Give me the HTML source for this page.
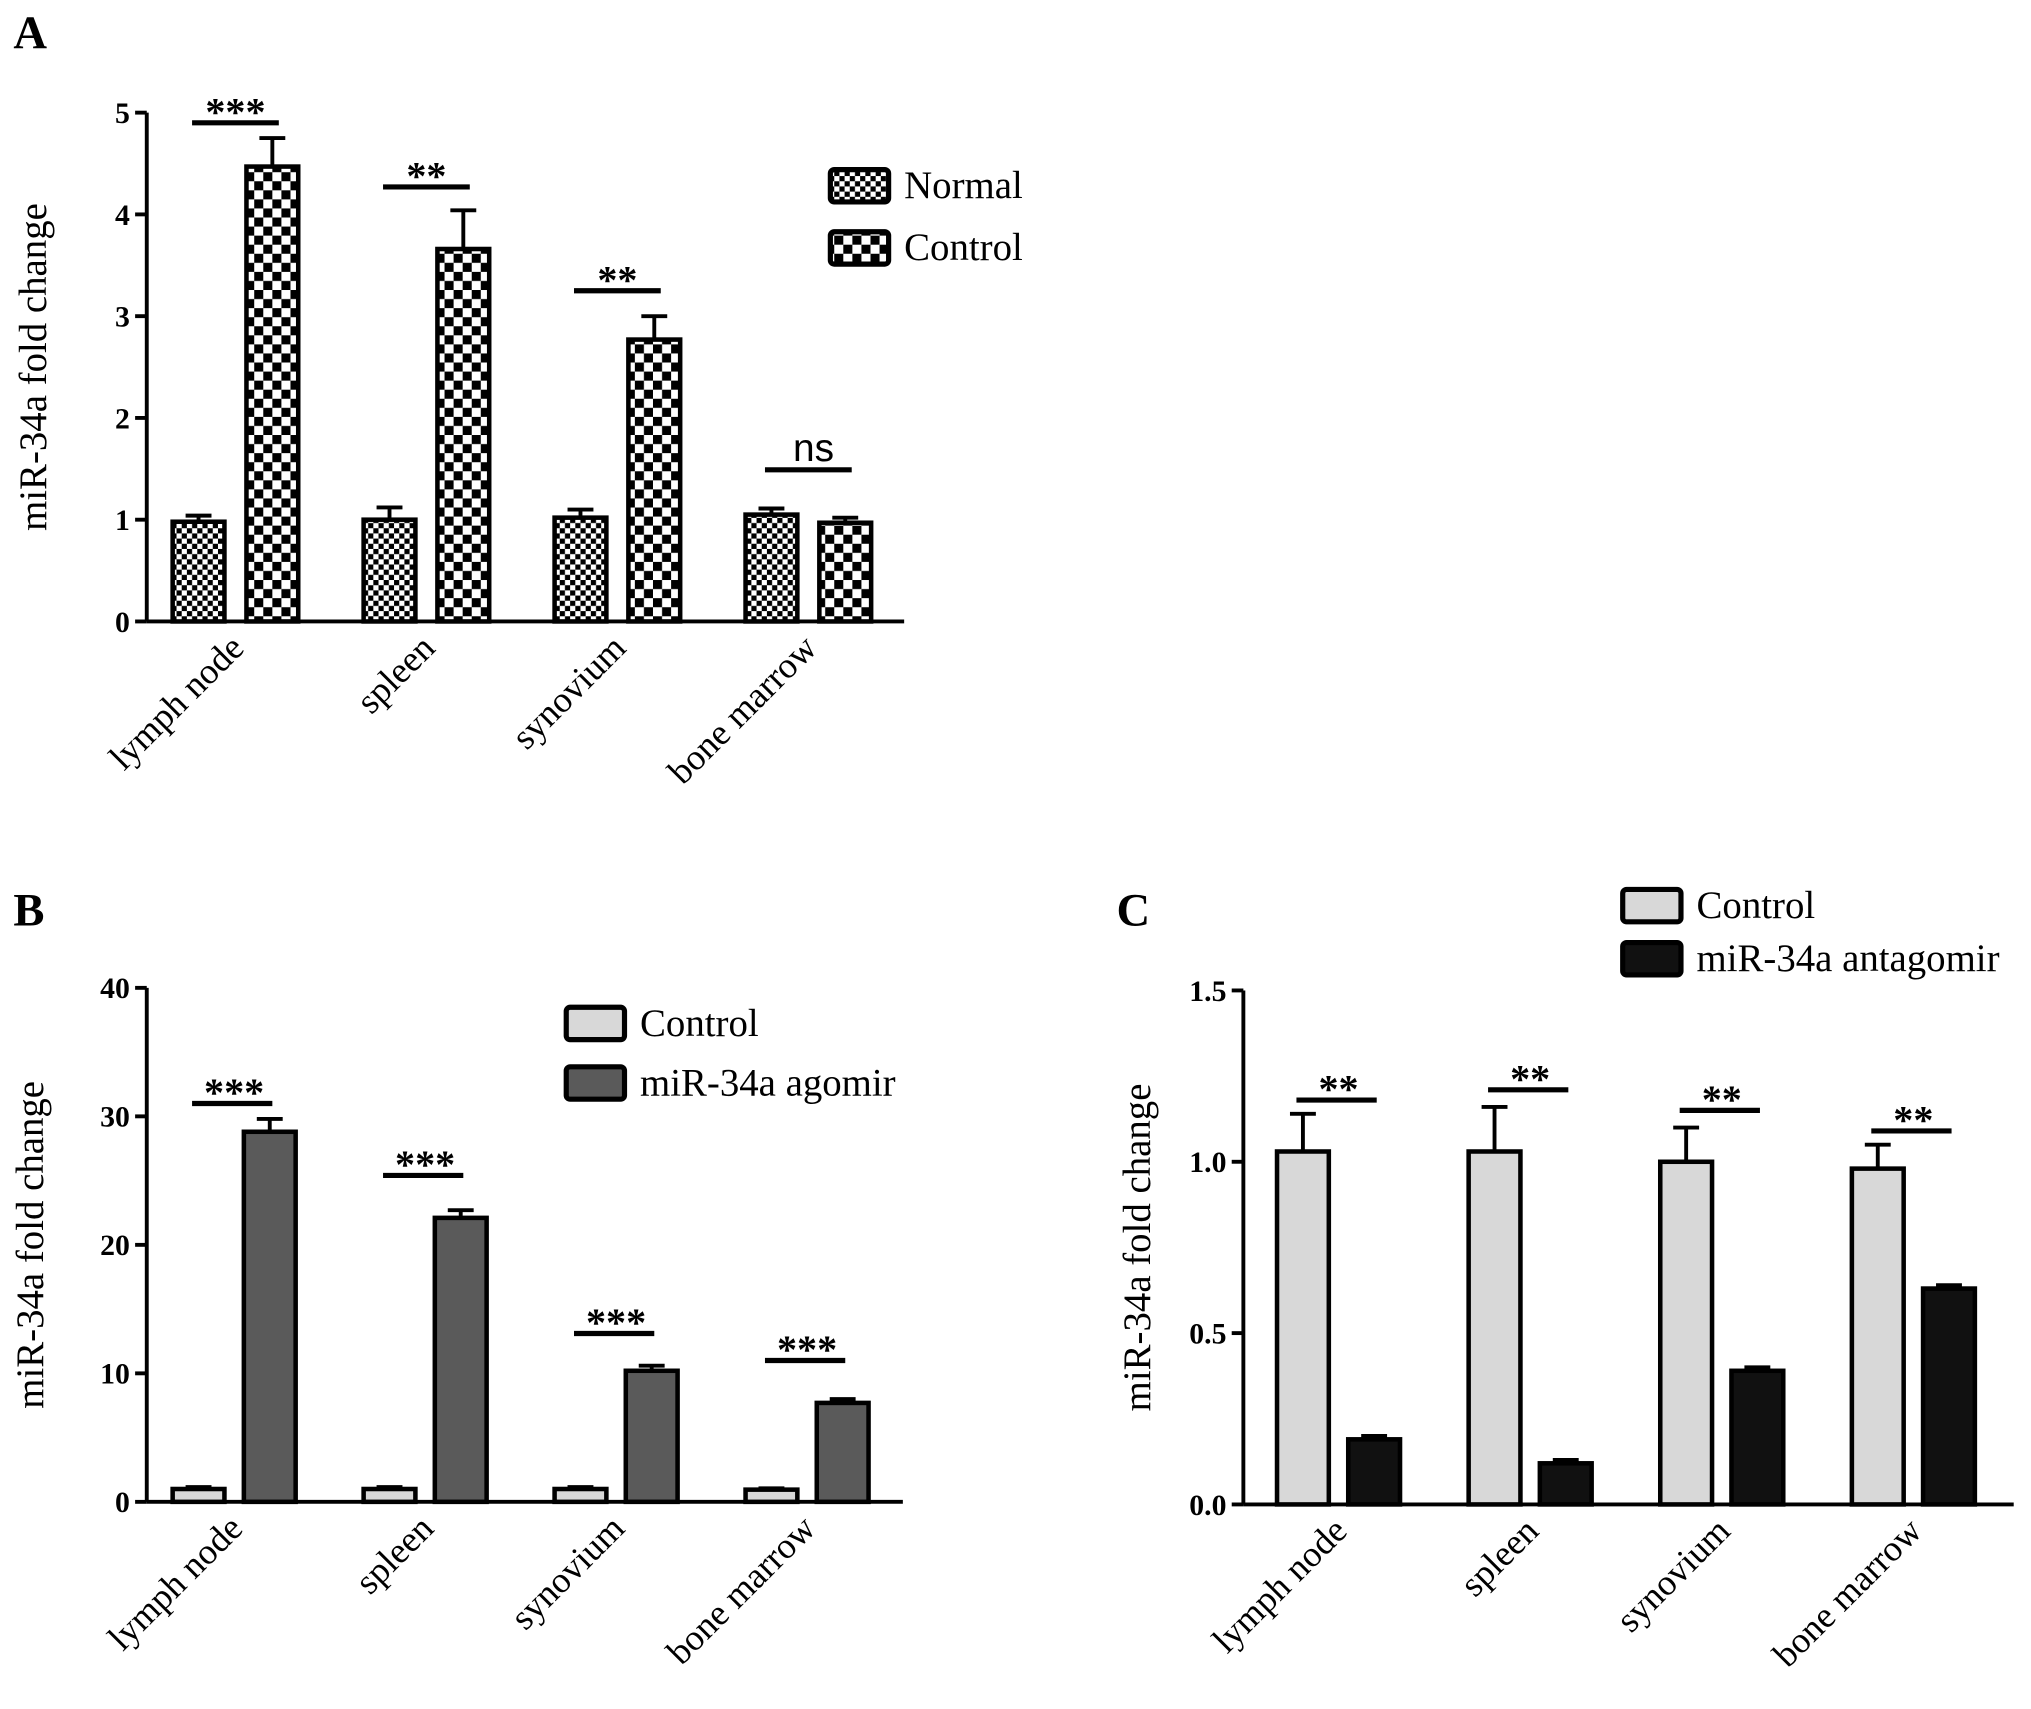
<!DOCTYPE html>
<html><head><meta charset="utf-8"><style>html,body{margin:0;padding:0;background:#fff}svg{display:block}</style></head>
<body>
<svg id="fig" width="2031" height="1709" viewBox="0 0 1568 1320" xmlns="http://www.w3.org/2000/svg" font-family="Liberation Serif, serif">
<defs>
<pattern id="pfine" width="8" height="8" patternUnits="userSpaceOnUse"><rect width="8" height="8" fill="#fff"/><rect width="4" height="4" fill="#000"/><rect x="4" y="4" width="4" height="4" fill="#000"/></pattern>
<pattern id="pcoarse" width="14" height="14" patternUnits="userSpaceOnUse"><rect width="14" height="14" fill="#fff"/><rect width="7" height="7" fill="#000"/><rect x="7" y="7" width="7" height="7" fill="#000"/></pattern>
</defs>
<g id="root"></g>
</svg>
<script>
const categories = ["lymph node","spleen","synovium","bone marrow"];
const aNormal = [0.98,1.0,1.02,1.05];
const aNormalErr = [0.06,0.12,0.08,0.06];
const aControl = [4.47,3.66,2.77,0.97];
const aControlErr = [0.28,0.38,0.23,0.05];
const aTicks = [0,1,2,3,4,5];
const aSig = ["***","**","**","ns"];
const aSigLevel = [4.9,4.27,3.25,1.49];
const bControl = [1.0,1.0,1.0,0.95];
const bControlErr = [0.15,0.15,0.15,0.1];
const bAgomir = [28.8,22.1,10.2,7.7];
const bAgomirErr = [1.0,0.6,0.4,0.3];
const bTicks = [0,10,20,30,40];
const bSig = ["***","***","***","***"];
const bSigLevel = [31,25.4,13.1,11.0];
const cControl = [1.03,1.03,1.0,0.98];
const cControlErr = [0.11,0.13,0.10,0.07];
const cAntagomir = [0.19,0.12,0.39,0.63];
const cAntagomirErr = [0.01,0.01,0.01,0.01];
const cTicks = ["0.0","0.5","1.0","1.5"];
const cSig = ["**","**","**","**"];
const cSigLevel = [1.18,1.21,1.15,1.09];

const NS="http://www.w3.org/2000/svg";
const root=document.getElementById('root');
function mk(tag,attrs,parent){const e=document.createElementNS(NS,tag);for(const k in attrs)e.setAttribute(k,attrs[k]);(parent||root).appendChild(e);return e;}

function panel(o){
  const g=mk('g',{});
  
  
  const yS=v=>o.y0-(v-o.ymin)/(o.ymax-o.ymin)*(o.y0-o.ytop);
  const ax=mk('line',{x1:o.ax,y1:o.ytop,x2:o.ax,y2:o.y0,stroke:'#000','stroke-width':3},g);
  
  
  const xx=mk('line',{x1:o.ax,y1:o.y0,x2:o.axEnd,y2:o.y0,stroke:'#000','stroke-width':3},g);
  
  
  o.ticks.forEach(t=>{
    const y=yS(parseFloat(t));
    mk('line',{x1:o.ax-9,y1:y,x2:o.ax,y2:y,stroke:'#000','stroke-width':3},g);
    const tl=mk('text',{x:o.ax-13,y:y+8,'text-anchor':'end','font-size':23,'font-weight':'bold'},g);
    tl.textContent=t;
    
    
  });
  const yt=mk('text',{x:0,y:0,transform:`translate(${o.ytx},${(o.ytop+o.y0)/2}) rotate(-90)`,'text-anchor':'middle','font-size':30},g);
  yt.textContent='miR-34a fold change';
  
  
  const bw=40;
  categories.forEach((c,i)=>{
    const x1=o.first+i*o.step, x2=x1+o.gap;
    [[x1,o.s1[i],o.e1[i],o.f1,'bar-'+o.n1],[x2,o.s2[i],o.e2[i],o.f2,'bar-'+o.n2]].forEach(([x,v,e,f,nm])=>{
      const top=yS(v), et=yS(v+e), cx=x+bw/2;
      const el=mk('line',{x1:cx,y1:et,x2:cx,y2:top,stroke:'#000','stroke-width':3},g);
      
      
      mk('line',{x1:cx-10,y1:et,x2:cx+10,y2:et,stroke:'#000','stroke-width':3},g);
      const r=mk('rect',{x:x,y:top,width:bw,height:o.y0-top,fill:f,stroke:'#000','stroke-width':3.5},g);
      
      
    });
    const sy=yS(o.sigLv[i]);
    const sl=mk('line',{x1:x1+15,y1:sy,x2:x2+bw-15+o.sigExt,y2:sy,stroke:'#000','stroke-width':4},g);
    
    
    const isNs=o.sig[i]==='ns';
    const st=mk('text',{x:(x1+x2+bw)/2+(isNs?4:0),y:sy-(isNs?7:-2),'text-anchor':'middle','font-size':isNs?30:31,'font-weight':isNs?'normal':'bold','font-family':isNs?'Liberation Sans, sans-serif':'Liberation Serif, serif'},g);
    st.textContent=o.sig[i];
    
    
    const lx=(x1+x2+bw)/2+8, ly=o.y0+22;
    const cl=mk('text',{x:0,y:0,transform:`translate(${lx},${ly}) rotate(-45)`,'text-anchor':'end','font-size':28},g);
    cl.textContent=c;
    
    
  });
  [[o.n1Label,o.f1,0],[o.n2Label,o.f2,1]].forEach(([lab,f,k])=>{
    const y=o.legY+k*o.legDy;
    const lr=mk('rect',{x:o.legX,y:y,width:45,height:25,rx:3,fill:f,stroke:'#000','stroke-width':4},g);
    
    
    const lt=mk('text',{x:o.legX+57,y:y+22,'font-size':30},g);
    lt.textContent=lab;
    
    
  });
  const pl=mk('text',{x:o.lx,y:o.ly,'font-size':36,'font-weight':'bold'},g);
  pl.textContent=o.letter;
  
  
}
panel({name:'panel-a',letter:'A',lx:10,ly:37,ax:113,axEnd:698,y0:480,ytop:87,ymin:0,ymax:5,ticks:aTicks,ytx:35,
  first:133,step:147.5,gap:57,s1:aNormal,e1:aNormalErr,s2:aControl,e2:aControlErr,f1:'url(#pfine)',f2:'url(#pcoarse)',
  n1:'normal',n2:'control',n1Label:'Normal',n2Label:'Control',sig:aSig,sigLv:aSigLevel,sigExt:0,legX:641,legY:131,legDy:48});
panel({name:'panel-b',letter:'B',lx:10,ly:715,ax:113,axEnd:697,y0:1160,ytop:763,ymin:0,ymax:40,ticks:bTicks,ytx:33,
  first:133,step:147.5,gap:55,s1:bControl,e1:bControlErr,s2:bAgomir,e2:bAgomirErr,f1:'#d8d8d8',f2:'#5a5a5a',
  n1:'control',n2:'agomir',n1Label:'Control',n2Label:'miR-34a agomir',sig:bSig,sigLv:bSigLevel,sigExt:-3,legX:437,legY:778,legDy:46});
panel({name:'panel-c',letter:'C',lx:862,ly:715,ax:960,axEnd:1555,y0:1162,ytop:765,ymin:0,ymax:1.5,ticks:cTicks,ytx:888,
  first:986,step:148,gap:55,s1:cControl,e1:cControlErr,s2:cAntagomir,e2:cAntagomirErr,f1:'#d8d8d8',f2:'#111',
  n1:'control',n2:'antagomir',n1Label:'Control',n2Label:'miR-34a antagomir',sig:cSig,sigLv:cSigLevel,sigExt:-3,legX:1253,legY:687,legDy:41});
</script>
</body></html>
